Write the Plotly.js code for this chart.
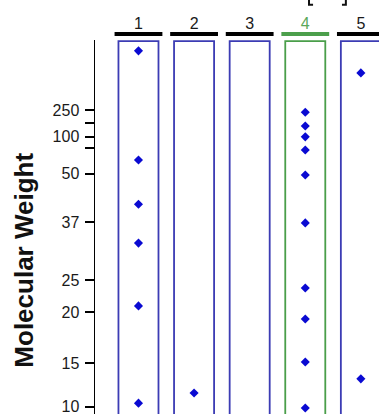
<!DOCTYPE html>
<html>
<head>
<meta charset="utf-8">
<script src="https://cdn.plot.ly/plotly-3.0.1.min.js"></script>
<style>
  html, body { margin: 0; padding: 0; background: #fff; }
  #chart { width: 379px; height: 414px; }
</style>
</head>
<body>
<div id="chart"></div>
<script>
// Lanes
const lanes = [1, 2, 3, 4, 5];
const laneLabels = ['1', '2', '3', '<span style="color:#5aa85a">4</span>', '5'];
const highlightLane = 4;

// Molecular weight marker ladder: migration position (% of gel length) and label
const ladderPos = [18.7, 22.2, 25.9, 28.9, 35.8, 48.7, 64.2, 72.7, 86.4, 98.1];
const ladderText = ['250', '', '100', '', '50', '37', '25', '20', '15', '10'];

// Band positions (migration, % of gel length) per lane
const bandLane = [1, 1, 1, 1, 1, 1,
                  2,
                  4, 4, 4, 4, 4, 4, 4, 4, 4, 4,
                  5, 5];
const bandPos = [2.9, 32.1, 43.9, 54.3, 71.1, 97.1,
                 94.4,
                 19.3, 23.0, 25.9, 29.4, 36.1, 48.9, 66.3, 74.6, 86.1, 98.4,
                 8.8, 90.6];

const blue = '#3c3cb4';
const green = '#4a9e4a';
const boxHalf = 0.36;
const barHalf = 0.43;

const shapes = [];
lanes.forEach(l => {
  const c = l === highlightLane ? green : blue;
  const bc = l === highlightLane ? '#4c9f4c' : '#000';
  shapes.push({
    type: 'path', xref: 'x', yref: 'y',
    path: `M ${l - boxHalf},104 L ${l - boxHalf},0.3 L ${l + boxHalf},0.3 L ${l + boxHalf},104`,
    line: { color: c, width: 1.8 }
  });
  shapes.push({
    type: 'line', xref: 'x', yref: 'paper',
    x0: l - barHalf, x1: l + barHalf, y0: 1.016, y1: 1.016,
    line: { color: bc, width: 4 }
  });
});
shapes.push({ type: 'path', xref: 'x', yref: 'paper',
  path: 'M 4.067,1.12 L 4.067,1.094 L 4.14,1.094', line: { color: '#111', width: 2 } });
shapes.push({ type: 'path', xref: 'x', yref: 'paper',
  path: 'M 4.73,1.12 L 4.73,1.094 L 4.66,1.094', line: { color: '#111', width: 2 } });

const trace = {
  type: 'scatter', mode: 'markers',
  x: bandLane, y: bandPos,
  marker: { symbol: 'diamond', size: 7, color: '#0a0ad2' },
  hoverinfo: 'skip', showlegend: false, cliponaxis: false
};

const layout = {
  width: 379, height: 414,
  margin: { l: 95, r: 0, t: 40, b: 0 },
  paper_bgcolor: '#fff', plot_bgcolor: '#fff',
  font: { family: 'Liberation Sans, Arial, sans-serif', color: '#1a1a1a', size: 16 },
  xaxis: {
    range: [0.218, 5.326], side: 'top',
    tickvals: lanes, ticktext: laneLabels,
    showgrid: false, zeroline: false, showline: false, ticks: '',
    tickfont: { size: 16, color: '#1a1a1a' }, ticklabelstandoff: 7
  },
  yaxis: {
    range: [100, 0],
    tickvals: ladderPos, ticktext: ladderText,
    showgrid: false, zeroline: false, showline: true,
    linecolor: '#000', linewidth: 1.5,
    ticks: 'outside', ticklen: 9, tickwidth: 1.5, tickcolor: '#000',
    tickfont: { size: 16, color: '#1a1a1a' },
    ticklabeloverflow: 'allow', ticklabelstandoff: 2
  },
  shapes: shapes,
  annotations: [{
    text: '<b>Molecular Weight</b>', textangle: -90,
    xref: 'paper', yref: 'paper', x: -0.25, xanchor: 'center',
    y: 0.41, yanchor: 'middle', showarrow: false,
    font: { size: 26, color: '#111', family: 'Liberation Sans, Arial, sans-serif' }
  }]
};

Plotly.newPlot('chart', [trace], layout, { staticPlot: true, displayModeBar: false });
</script>
</body>
</html>
